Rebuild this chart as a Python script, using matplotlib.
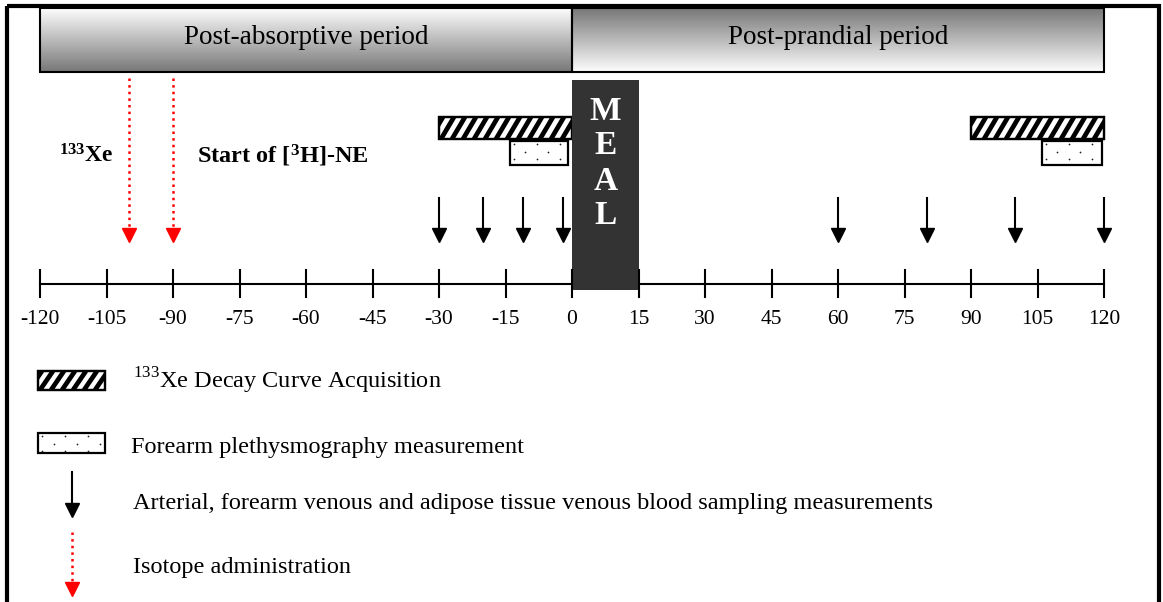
import matplotlib
matplotlib.use("Agg")
import matplotlib.pyplot as plt
import numpy as np
from matplotlib.patches import Rectangle

plt.rcParams["font.family"] = ["Liberation Serif", "DejaVu Serif"]
plt.rcParams["mathtext.fontset"] = "custom"
plt.rcParams["mathtext.rm"] = "Liberation Serif"
plt.rcParams["mathtext.bf"] = "Liberation Serif:bold"

# ------------------------------------------------------------------ data
tick_minutes = list(range(-120, 121, 15))
tick_labels = [str(t) for t in tick_minutes]

periods = ["Post-absorptive period", "Post-prandial period"]
period_spans = [(-120, 0), (0, 120)]

meal_span = (0, 15)
meal_letters = ["M", "E", "A", "L"]

xe_decay_spans = [(-30, 0), (90, 120)]
plethysmo_spans = [(-14, -1), (106, 119.5)]
blood_sampling_times = [-30, -20, -11, -2, 60, 80, 100, 120]
isotope_times = [-100, -90]

legend_labels = [
    r"$^{133}$Xe Decay Curve Acquisition",
    "Forearm plethysmography measurement",
    "Arterial, forearm venous and adipose tissue venous blood sampling measurements",
    "Isotope administration",
]

# ------------------------------------------------------------------ layout
W, H = 1163, 602
PX_PER_MIN = 1064 / 240
ZERO_PX = 572


def px(xp):
    """pixel column -> minutes"""
    return (xp - ZERO_PX) / PX_PER_MIN


fig = plt.figure(figsize=(W / 100, H / 100), dpi=100)
ax = fig.add_axes([0, 0, 1, 1])
ax.set_xlim(px(0), px(W))
ax.set_ylim(H, 0)
ax.axis("off")

# outer frame
ax.add_patch(Rectangle((px(6.5), 5.5), px(1158.5) - px(6.5), 700,
                       fill=False, ec="black", lw=3, zorder=1))

# period header boxes with gradients
grad = np.linspace(0, 1, 100).reshape(-1, 1)
for i, (name, (a, b)) in enumerate(zip(periods, period_spans)):
    g = grad if i == 1 else grad[::-1]
    ax.imshow(g, cmap="gray", vmin=-0.9, vmax=1.02, aspect="auto",
              extent=(a, b, 72, 8), zorder=2)
    ax.add_patch(Rectangle((a, 8), b - a, 64, fill=False, ec="black",
                           lw=1.5, zorder=3))
    ax.text((a + b) / 2, 38, name, ha="center", va="center",
            fontsize=19.5, zorder=4)


def striped(x0, x1, y0, y1):
    rect = Rectangle((x0, y0), x1 - x0, y1 - y0, fc="white", ec="black",
                     lw=1.6, zorder=5)
    ax.add_patch(rect)
    p0, p1 = x0 * PX_PER_MIN, x1 * PX_PER_MIN
    h = y1 - y0
    for s in np.arange(p0 - 20, p1 + 20, 11):
        ln, = ax.plot([s / PX_PER_MIN, (s + 13) / PX_PER_MIN], [y1, y0],
                      color="black", lw=3.4, solid_capstyle="butt", zorder=5)
        ln.set_clip_path(rect)
    ax.add_patch(Rectangle((x0, y0), x1 - x0, h, fill=False, ec="black",
                           lw=1.6, zorder=6))


def dotted(x0, x1, y0, y1):
    rect = Rectangle((x0, y0), x1 - x0, y1 - y0, fc="white", ec="black",
                     lw=1.6, zorder=5)
    ax.add_patch(rect)
    p0, p1 = x0 * PX_PER_MIN, x1 * PX_PER_MIN
    for r, yy in enumerate(np.arange(y0 + 3, y1, 7.5)):
        off = 0 if r % 2 == 0 else 11.5
        xs = np.arange(p0 + 4 + off, p1 - 2, 23) / PX_PER_MIN
        ax.scatter(xs, np.full(len(xs), yy), s=1.6, color="#222222",
                   linewidths=0, zorder=6)


for a, b in xe_decay_spans:
    striped(a, b, 117, 139)
for a, b in plethysmo_spans:
    dotted(a, b, 141, 165)

# time axis
ax.plot([tick_minutes[0], tick_minutes[-1]], [284, 284], color="black",
        lw=1.5, zorder=3)
for t, lab in zip(tick_minutes, tick_labels):
    ax.plot([t, t], [270, 297], color="black", lw=1.5, zorder=8)
    ax.text(t, 319, lab, ha="center", va="center", fontsize=15.5)

# meal block
ax.add_patch(Rectangle((meal_span[0], 80), meal_span[1] - meal_span[0], 210,
                       fc="#333333", ec="none", zorder=7))
for k, letter in enumerate(meal_letters):
    ax.text(sum(meal_span) / 2, 111 + k * 35, letter, ha="center",
            va="center", color="white", fontsize=24, fontweight="bold",
            zorder=8)


def down_arrow(x, ytop, ytip, color, ls, lw):
    ax.plot([x, x], [ytop, ytip - 13], color=color, ls=ls, lw=lw, zorder=6)
    ax.plot(x, ytip - 7, marker="v", ms=10, color=color, mec=color,
            zorder=6)


for t in blood_sampling_times:
    down_arrow(t, 198, 242, "black", "-", 1.5)
for t in isotope_times:
    down_arrow(t, 78, 242, "red", ":", 1.8)

ax.text(px(59), 156, r"$\mathbf{^{133}Xe}$", ha="left", va="center",
        fontsize=17)
ax.text(px(197), 156, r"Start of [$\mathbf{^{3}}$H]-NE", ha="left",
        va="center", fontsize=17.5, fontweight="bold")

# legend
striped(px(38), px(105), 371, 390)
dotted(px(38), px(105), 433, 453)
down_arrow(px(72), 472, 517, "black", "-", 1.5)
down_arrow(px(72), 532, 596, "red", ":", 1.8)
for lab, yy, xx in zip(legend_labels, [381, 447, 503, 567],
                       [133, 131, 133, 133]):
    ax.text(px(xx), yy, lab, ha="left", va="center", fontsize=17.5)

fig.savefig("out.png", dpi=100)
